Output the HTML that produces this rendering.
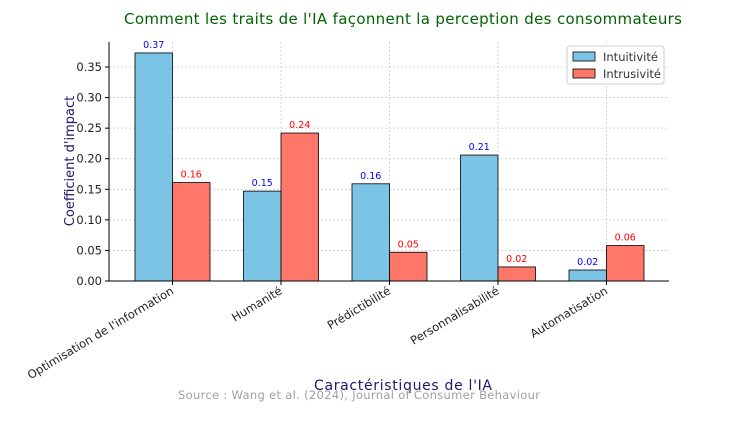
<!DOCTYPE html>
<html><head><meta charset="utf-8"><style>
body{margin:0;background:#fff;font-family:"DejaVu Sans",sans-serif}
</style></head><body>
<svg width="754" height="428" xmlns="http://www.w3.org/2000/svg" font-family="DejaVu Sans, Liberation Sans, sans-serif">
<text x="403" y="24" text-anchor="middle" font-size="15" fill="#006400" textLength="558">Comment les traits de l'IA façonnent la perception des consommateurs</text>
<g id="grid"></g><g id="bars"></g><g id="axes"></g>
<text x="403" y="390" text-anchor="middle" font-size="14" fill="#191970" textLength="178">Caractéristiques de l'IA</text>
<text transform="translate(74,161) rotate(-90)" text-anchor="middle" font-size="13" fill="#191970">Coefficient d'impact</text>
<text x="359" y="399" text-anchor="middle" font-size="11.5" fill="#a0a0a0" textLength="362">Source : Wang et al. (2024), Journal of Consumer Behaviour</text>
<g>
<rect x="567" y="46" width="97" height="38" rx="3" fill="#fff" stroke="#ccc"/>
<rect x="573" y="52" width="22" height="9" fill="#7bc4e5" stroke="#000" stroke-width="0.8"/>
<text x="603" y="61" font-size="11.5" fill="#333">Intuitivité</text>
<rect x="573" y="69" width="22" height="9" fill="#ff7768" stroke="#000" stroke-width="0.8"/>
<text x="603" y="78" font-size="11.5" fill="#333">Intrusivité</text>
</g>
</svg>
<script>
const categories=["Optimisation de l'information","Humanité","Prédictibilité","Personnalisabilité","Automatisation"];
const intuitivite=[0.373,0.147,0.159,0.206,0.018];
const intrusivite=[0.161,0.242,0.047,0.023,0.058];
const yTicks=[0,0.05,0.10,0.15,0.20,0.25,0.30,0.35];
const NS="http://www.w3.org/2000/svg";
const x0=109,x1=669,yTop=42,yBase=281,pxPerUnit=611.4;
const step=108.5,firstCenter=172.5,bw=37.5;
const y=v=>yBase-v*pxPerUnit;
const xc=i=>firstCenter+i*step;
function mk(tag,attrs,parent,text){const e=document.createElementNS(NS,tag);for(const k in attrs)e.setAttribute(k,attrs[k]);if(text!==undefined)e.textContent=text;parent.appendChild(e);return e;}
const grid=document.getElementById('grid'),bars=document.getElementById('bars'),axes=document.getElementById('axes');
yTicks.forEach(t=>{
 const l=mk('line',{x1:x0,x2:x1,y1:y(t),y2:y(t),stroke:'#ccc','stroke-dasharray':'2,2','stroke-width':0.8},grid);
 
 
 mk('line',{x1:x0-4,x2:x0,y1:y(t),y2:y(t),stroke:'#000'},axes);
 const tx=mk('text',{x:x0-7,y:y(t)+4,'text-anchor':'end','font-size':11.5,fill:'#222'},axes,t.toFixed(2));
 
 
});
categories.forEach((c,i)=>{
 const cx=xc(i);
 const g=mk('line',{x1:cx,x2:cx,y1:yTop,y2:yBase,stroke:'#ccc','stroke-dasharray':'2,2','stroke-width':0.8},grid);
 
 
 const b1=mk('rect',{x:cx-bw,y:y(intuitivite[i]),width:bw,height:yBase-y(intuitivite[i]),fill:'#7bc4e5',stroke:'#000','stroke-width':0.8},bars);
 
 
 const b2=mk('rect',{x:cx,y:y(intrusivite[i]),width:bw,height:yBase-y(intrusivite[i]),fill:'#ff7768',stroke:'#000','stroke-width':0.8},bars);
 
 
 const l1=mk('text',{x:cx-bw/2,y:y(intuitivite[i])-5,'text-anchor':'middle','font-size':9.5,fill:'#0000ff'},bars,intuitivite[i].toFixed(2));
 
 
 const l2=mk('text',{x:cx+bw/2,y:y(intrusivite[i])-5,'text-anchor':'middle','font-size':9.5,fill:'#ff0000'},bars,intrusivite[i].toFixed(2));
 
 
 mk('line',{x1:cx,x2:cx,y1:yBase,y2:yBase+4,stroke:'#000'},axes);
 const t=mk('text',{transform:`translate(${cx+2},${yBase+12}) rotate(-31)`,'text-anchor':'end','font-size':11.5,fill:'#222'},axes,c);
 
 
});
mk('line',{x1:x0,x2:x0,y1:yTop,y2:yBase,stroke:'#000'},axes);
mk('line',{x1:x0,x2:x1,y1:yBase,y2:yBase,stroke:'#000'},axes);
</script>
</body></html>
